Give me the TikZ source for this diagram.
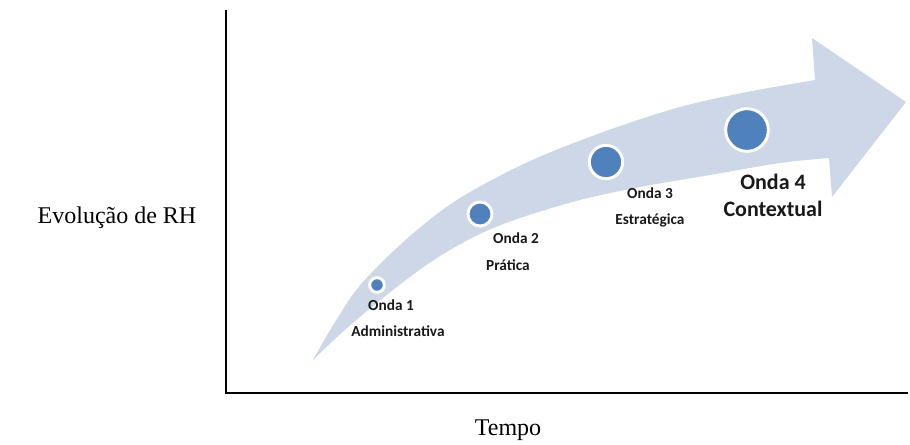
\documentclass[tikz,border=0pt]{standalone}
\usepackage{fontspec}
\setmainfont{Liberation Serif}
\newfontfamily\labelfont{Carlito}
\definecolor{bandfill}{RGB}{206,215,231}
\definecolor{wavedot}{RGB}{79,129,189}
\definecolor{labeltext}{RGB}{25,25,25}
\begin{document}
\begin{tikzpicture}[x=0.75pt,y=-0.75pt,
  wave/.style={circle,fill=wavedot,draw=white,line width=2.2pt,inner sep=0pt},
  wavelabel/.style={font=\labelfont\bfseries\fontsize{11.5}{13}\selectfont,text=labeltext,align=center,inner sep=0pt},
  biglabel/.style={font=\labelfont\bfseries\fontsize{16.5}{18}\selectfont,text=labeltext,align=center,inner sep=0pt},
  axislabel/.style={font=\fontsize{18}{21}\selectfont,inner sep=0pt},
  axis/.style={line width=1.8pt,black}]
\useasboundingbox (0,0) rectangle (910,444);

% curved arrow band
\fill[bandfill]
  plot[smooth,tension=0.55] coordinates {(313,360) (335,322) (362,283) (410,236) (460,198) (530,161) (606,131) (680,107) (747,92) (815,80)}
  -- (812,38) -- (906,102) -- (832,197)
  -- plot[smooth,tension=0.55] coordinates {(829,158) (780,163) (710,175) (640,187) (580,200) (520,218) (480,234) (440,256) (398,286) (347,328) (313,360)}
  -- cycle;

% axes
\coordinate (top) at (226,10);
\coordinate (origin) at (226,393);
\coordinate (right) at (908,393);
\draw[axis] (top) -- (origin) -- (right);

% waves
\node[wave,minimum size=11pt] (w1) at (377,285) {};
\node[wave,minimum size=18pt] (w2) at (480,214) {};
\node[wave,minimum size=25pt] (w3) at (606,162) {};
\node[wave,minimum size=32pt] (w4) at (747,130) {};

\node[wavelabel] (l1a) at (391,305) {Onda 1};
\node[wavelabel] (l1b) at (398,331) {Administrativa};
\node[wavelabel] (l2a) at (516,238) {Onda 2};
\node[wavelabel] (l2b) at (508,265) {Prática};
\node[wavelabel] (l3a) at (650,193) {Onda 3};
\node[wavelabel] (l3b) at (650,220) {Estratégica};
\node[biglabel] (l4a) at (773,182) {Onda 4};
\node[biglabel] (l4b) at (773,209) {Contextual};

% axis titles
\node[axislabel] (ylab) at (117,218) {Evolução de RH};
\node[axislabel] (xlab) at (508,430) {Tempo};
\end{tikzpicture}
\end{document}
